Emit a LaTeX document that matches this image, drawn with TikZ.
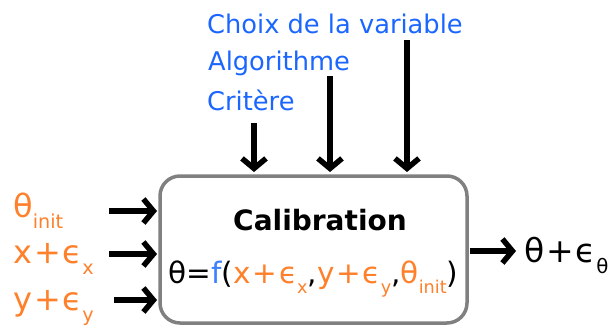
\documentclass[tikz,border=0pt]{standalone}
\usepackage{fontspec}
\setmainfont{DejaVu Sans}
\usetikzlibrary{arrows.meta}
\definecolor{lblue}{RGB}{26,102,255}
\definecolor{fblue}{RGB}{60,130,255}
\definecolor{lorange}{RGB}{255,128,42}
\definecolor{bgray}{RGB}{128,128,128}
\newcommand{\sbs}[1]{\raisebox{-0.35em}{\scalebox{0.6}{#1}}}
\newcommand{\pl}{\hspace{0.06em}+\hspace{0.06em}}
\tikzset{
  arr/.style={line width=5.5pt,-{Straight Barb[length=10pt,width=24pt,line width=5.5pt]}},
  toplbl/.style={anchor=base west,inner sep=0,text=lblue,font=\fontsize{25.7}{30}\selectfont},
  leftlbl/.style={anchor=base west,inner sep=0,text=lorange,font=\fontsize{32}{38}\selectfont},
}
\begin{document}
\begin{tikzpicture}[x=1pt,y=-1pt]
\useasboundingbox (0,0) rectangle (611,325);
% box
\draw[bgray,line width=3.5pt,rounded corners=20pt] (160,176) rectangle (467,323);
\node[anchor=base,inner sep=0,font=\bfseries\fontsize{28}{34}\selectfont] (title) at (320,230) {Calibration};
\node[anchor=base,inner sep=0,font=\fontsize{29.5}{34}\selectfont] (formula) at (313.5,283)
 {θ=\textcolor{fblue}{f}(\textcolor{lorange}{x\pl ϵ\sbs{x}},\textcolor{lorange}{y\pl ϵ\sbs{y}},\textcolor{lorange}{θ\sbs{init}})};
% top labels
\node[toplbl] (choix) at (207,33) {Choix de la variable};
\node[toplbl] (algo) at (208,70) {Algorithme};
\node[toplbl] (crit) at (207,110) {Critère};
% top arrows
\coordinate (c1) at (254,123); \coordinate (c1e) at (254,172);
\coordinate (a1) at (330,76); \coordinate (a1e) at (330,172);
\coordinate (h1) at (407,40); \coordinate (h1e) at (407,172);
\draw[arr] (c1) -- (c1e);
\draw[arr] (a1) -- (a1e);
\draw[arr] (h1) -- (h1e);
% left labels
\node[leftlbl] (thi) at (13,217) {θ\sbs{init}};
\node[leftlbl] (xe) at (13,263) {x\pl ϵ\sbs{x}};
\node[leftlbl] (ye) at (13,310) {y\pl ϵ\sbs{y}};
\coordinate (l1) at (109,211); \coordinate (l1e) at (157,211);
\coordinate (l2) at (109,254); \coordinate (l2e) at (157,254);
\coordinate (l3) at (114,300); \coordinate (l3e) at (157,300);
\draw[arr] (l1) -- (l1e);
\draw[arr] (l2) -- (l2e);
\draw[arr] (l3) -- (l3e);
% right
\coordinate (r1) at (470,251); \coordinate (r1e) at (516,251);
\draw[arr] (r1) -- (r1e);
\node[anchor=base west,inner sep=0,font=\fontsize{33}{38}\selectfont] (out) at (524,262) {θ\pl ϵ\sbs{θ}};
\end{tikzpicture}
\end{document}
